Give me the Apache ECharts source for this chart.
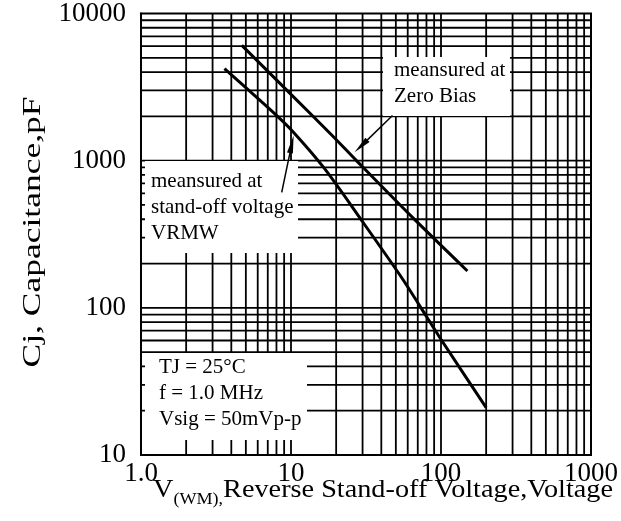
<!DOCTYPE html>
<html><head><meta charset="utf-8">
<script src="https://cdn.jsdelivr.net/npm/echarts@6/dist/echarts.min.js"></script>
<style>html,body{margin:0;padding:0;background:#fff}#c{width:621px;height:521px}</style>
</head><body><div id="c"></div>
<script>
// ---- data ----
const xTickLabels = ['1.0', '10', '100', '1000'];
const yTickLabels = ['10', '100', '1000', '10000'];
const xDecades = [1, 10, 100];
const yDecades = [10, 100, 1000];
const minorSteps = [1, 2, 3, 4, 5, 6, 7, 8, 9];

const zeroBiasV = [4.7, 10, 18.6, 27.2, 64.8, 150];
const zeroBiasC = [6070, 2820, 1500, 1005, 410, 178];
const standOffV = [3.6, 8.0, 10.6, 16.75, 30.1, 54.3, 71.8, 97.6, 200];
const standOffC = [4215, 2030, 1525, 882, 383, 162, 104, 63.4, 21];

const zeroBiasArrow = [[47.5, 2027], [29.3, 1256]];
const standOffArrow = [[8.67, 609], [10.12, 1294]];

const zeroBiasNote = 'meansured at\nZero Bias';
const standOffNote = 'meansured at\nstand-off voltage\nVRMW';
const condNote = 'TJ = 25°C\nf = 1.0 MHz\nVsig = 50mVp-p';
const yTitle = 'Cj, Capacitance,pF';

// ---- build ----
const X_MIN = 1, X_MAX = 1000, Y_MIN = 10, Y_MAX = 10000;
const vGrid = [], hGrid = [];
xDecades.forEach(d => minorSteps.forEach(m => { const v = d * m; if (v > X_MIN && v < X_MAX) vGrid.push([v, Y_MIN]); }));
yDecades.forEach(d => minorSteps.forEach(m => { const v = d * m; if (v > Y_MIN && v < Y_MAX) hGrid.push([X_MIN, v]); }));

const FONT = '"Liberation Serif", "Times New Roman", serif';
const chart = echarts.init(document.getElementById('c'), null, {renderer: 'canvas'});

function gridLine(vertical) {
  return function (params, api) {
    let a, b;
    if (vertical) { const x = api.value(0); a = api.coord([x, Y_MIN]); b = api.coord([x, Y_MAX]); }
    else { const y = api.value(1); a = api.coord([X_MIN, y]); b = api.coord([X_MAX, y]); }
    return {type: 'line', shape: {x1: a[0], y1: a[1], x2: b[0], y2: b[1]},
            style: {stroke: '#000', lineWidth: 1.8}};
  };
}

const arrowML = (pts) => ({
  silent: true, symbol: ['none', 'triangle'], symbolSize: [6, 18],
  label: {show: false}, lineStyle: {color: '#000', width: 1.5, type: 'solid'},
  emphasis: {disabled: true},
  data: [[{coord: pts[0]}, {coord: pts[1]}]]
});

chart.setOption({
  animation: false,
  backgroundColor: '#fff',
  grid: {left: 141, right: 29, top: 13, bottom: 66, show: true, borderColor: '#000', borderWidth: 2, z: 20},
  xAxis: {
    type: 'log', logBase: 10, min: X_MIN, max: X_MAX,
    axisLine: {show: true, lineStyle: {color: '#000', width: 2}},
    axisTick: {show: false}, splitLine: {show: false},
    axisLabel: {color: '#000', fontFamily: FONT, fontSize: 27, margin: 5,
      formatter: v => xTickLabels[Math.round(Math.log10(v))]}
  },
  yAxis: {
    type: 'log', logBase: 10, min: Y_MIN, max: Y_MAX,
    axisLine: {show: true, lineStyle: {color: '#000', width: 2}},
    axisTick: {show: false}, splitLine: {show: false},
    axisLabel: {color: '#000', fontFamily: FONT, fontSize: 27, margin: 15,
      formatter: v => yTickLabels[Math.round(Math.log10(v)) - 1]}
  },
  graphic: [
    {type: 'rect', z: 5, shape: {x: 383, y: 57, width: 127, height: 59}, style: {fill: '#fff'}},
    {type: 'rect', z: 5, shape: {x: 145, y: 161, width: 153, height: 92}, style: {fill: '#fff'}},
    {type: 'rect', z: 5, shape: {x: 145, y: 353, width: 162, height: 87}, style: {fill: '#fff'}},
    {type: 'text', z: 30, x: 394, y: 57, style: {text: zeroBiasNote, font: '21px ' + FONT, fill: '#000', lineHeight: 26, verticalAlign: 'top'}},
    {type: 'text', z: 30, x: 151, y: 168, style: {text: standOffNote, font: '21px ' + FONT, fill: '#000', lineHeight: 26, verticalAlign: 'top'}},
    {type: 'text', z: 30, x: 159, y: 354, style: {text: condNote, font: '21px ' + FONT, fill: '#000', lineHeight: 26, verticalAlign: 'top'}},
    {type: 'text', z: 30, x: 33, y: 232, rotation: Math.PI / 2, scaleX: 1.42,
      style: {text: yTitle, font: '25px ' + FONT, fill: '#000', align: 'center', verticalAlign: 'middle'}},
    {type: 'text', z: 30, x: 383, y: 490, scaleX: 1.13,
      style: {text: '{a|V}{b|(WM),}{a|Reverse Stand-off Voltage,Voltage}', align: 'center', verticalAlign: 'middle',
        rich: {a: {font: '25px ' + FONT, fill: '#000', lineHeight: 30, verticalAlign: 'middle'},
               b: {font: '16px ' + FONT, fill: '#000', lineHeight: 30, padding: [20, 0, 0, 0]}}}}
  ],
  series: [
    {type: 'custom', z: 1, silent: true, renderItem: gridLine(true), data: vGrid, encode: {x: 0, y: 1}, clip: true},
    {type: 'custom', z: 1, silent: true, renderItem: gridLine(false), data: hGrid, encode: {x: 0, y: 1}, clip: true},
    {type: 'line', z: 10, name: 'Zero Bias', data: zeroBiasV.map((v, i) => [v, zeroBiasC[i]]),
      smooth: 0.3, showSymbol: false, symbol: 'none', lineStyle: {color: '#000', width: 3},
      markLine: arrowML(zeroBiasArrow)},
    {type: 'line', z: 10, name: 'Stand-off', data: standOffV.map((v, i) => [v, standOffC[i]]),
      smooth: 0.3, showSymbol: false, symbol: 'none', lineStyle: {color: '#000', width: 3},
      markLine: arrowML(standOffArrow)}
  ]
});
</script></body></html>
